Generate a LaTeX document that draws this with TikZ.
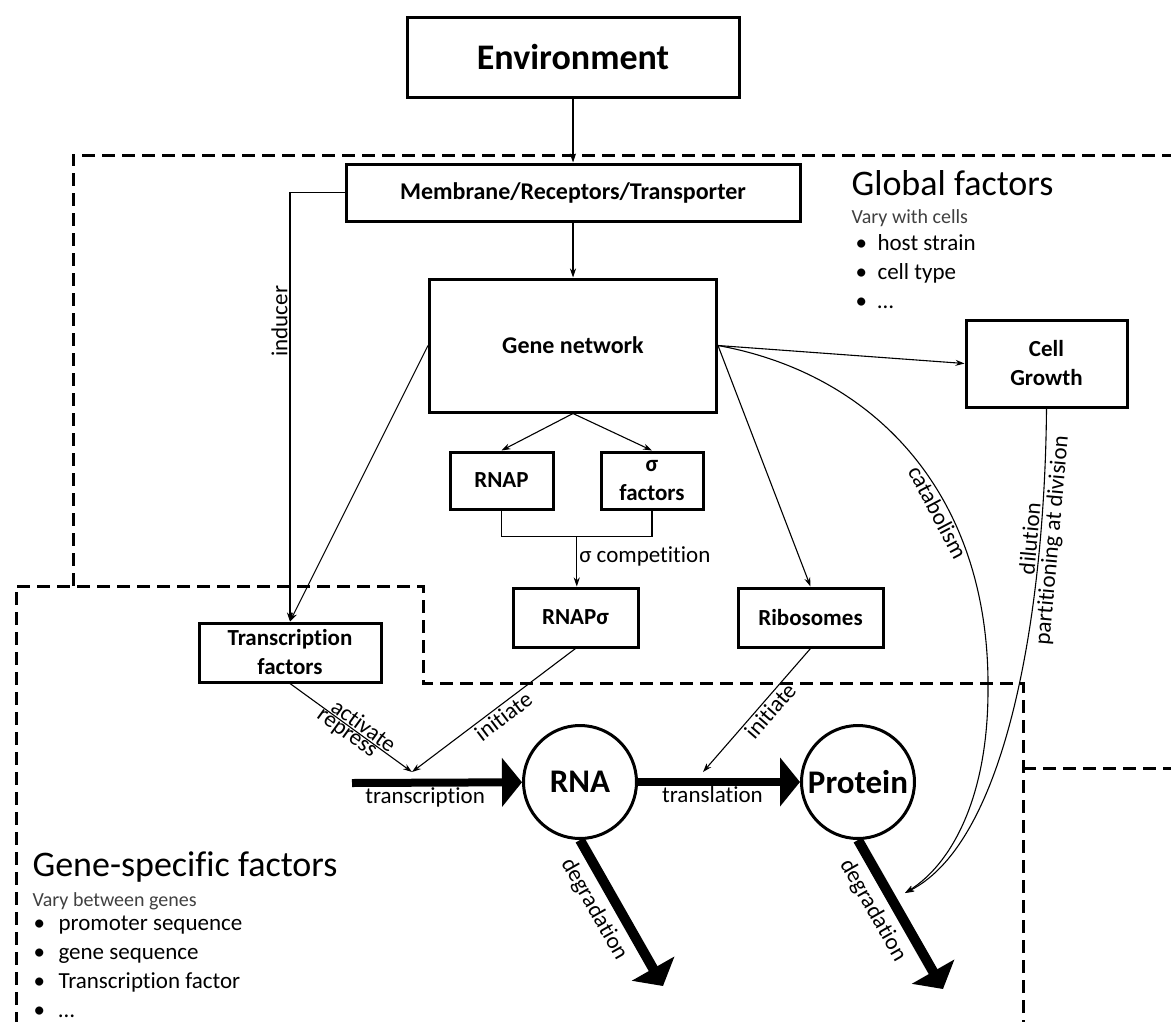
\documentclass[tikz,border=0pt]{standalone}
\usepackage{fontspec}
\setmainfont{Carlito}[Ligatures=NoCommon]
\usetikzlibrary{calc,arrows.meta,positioning}

\begin{document}
\begin{tikzpicture}[x=1pt,y=-1pt,>={Stealth[length=9pt,width=6pt]},line width=1.1pt,
  box/.style={draw,line width=3pt,align=center,inner sep=2pt,font=\fontsize{23}{29}\selectfont\bfseries},
  mol/.style={circle,draw,line width=3pt,minimum size=113pt,inner sep=0pt,font=\fontsize{33}{38}\selectfont\bfseries},
  big/.style={line width=8pt,-{Triangle[length=20pt,width=48pt]}},
  lab/.style={font=\fontsize{23}{28}\selectfont,inner sep=2pt},
  region/.style={line width=3pt,dash pattern=on 13pt off 7pt},
  head/.style={anchor=base west,inner sep=0pt,font=\fontsize{36}{40}\selectfont},
  sub/.style={anchor=base west,inner sep=0pt,text=black!75,font=\fontsize{20}{24}\selectfont},
  item/.style={anchor=base west,inner sep=0pt,font=\fontsize{23}{28}\selectfont}]

  \useasboundingbox (0,0) rectangle (1171,1021);

  \draw[region] (1175,155) -- (73,155) -- (73,586);
  \draw[region] (16,1025) -- (16,586) -- (423,586) -- (423,683) -- (1023,683) -- (1023,1025);
  \draw[region] (1023,768) -- (1175,768);

  \node[box,minimum width=332pt,minimum height=80pt,font=\fontsize{36}{40}\selectfont\bfseries] (1) at (573,57) {Environment};
  \node[box,minimum width=454pt,minimum height=57pt,font=\fontsize{24}{28}\selectfont\bfseries] (2) [below=64pt of 1] {Membrane/Receptors/Transporter};
  \node[box,minimum width=287pt,minimum height=133pt,font=\fontsize{24}{28}\selectfont\bfseries] (3) [below=55pt of 2] {Gene network};
  \node[box,minimum width=103pt,minimum height=57pt] (4) at (501.5,480.5) {RNAP};
  \node[box,minimum width=102pt,minimum height=57pt] (5) at (652,480.5) {σ\\factors};
  \node[box,minimum width=125pt,minimum height=59pt] (6) at (575.5,617.5) {RNAPσ};
  \node[box,minimum width=145pt,minimum height=59pt] (7) [right=97pt of 6] {Ribosomes};
  \node[box,minimum width=182pt,minimum height=59pt] (8) at (290,652.5) {Transcription\\factors};
  \node[box,minimum width=161pt,minimum height=87pt] (9) at (1046.5,363.5) {Cell\\Growth};
  \node[mol] (10) at (580,782) {RNA};
  \node[mol] (11) [right=162pt of 10] {Protein};

  \node[head] (gf) at (851,195) {Global factors};
  \node[sub] (gv) at (851,223) {Vary with cells};
  \foreach \t [count=\i] in {host strain,cell type,\ldots}
    \node[item] (g\i) at (855,221+29*\i) {\makebox[22pt][l]{•}\t};

  \node[head] (sf) at (32,876) {Gene-specific factors};
  \node[sub] (sv) at (32,906) {Vary between genes};
  \foreach \t [count=\i] in {promoter sequence,gene sequence,Transcription factor,\ldots}
    \node[item] (s\i) at (33,901+29*\i) {\makebox[25pt][l]{•}\t};

  \coordinate (t) at (412,772);
  \coordinate (tl) at (703,772);
  \coordinate (st) at (352,783);
  \coordinate (d1) at (663,986);
  \coordinate (d2) at (943,989);
  \coordinate (p) at (905,893);

  \draw[->] (1) -- (2);
  \draw[->] (2) -- (3);
  \draw[->] (2.west) -| node[lab,rotate=90,above,pos=.65] {inducer} (8.north);

  \path[->] (3.west) edge (8.north)
    (3.south) edge (4.north)
    (3.south) edge (5.north)
    (3.east) edge (9.west)
    (3.east) edge (7.north);

  \draw (4.south) -- ++(0,26) coordinate (a) -| (5.south);
  \coordinate (b) at ($(a)!.5!(a -| 5.south)$);
  \draw[->] (b) -- node[lab,right,pos=.4] {σ competition} (b |- 6.north);

  \path[->] (8.south) edge node[lab,sloped,above,pos=.56,inner sep=1pt] {activate} node[lab,sloped,below,pos=.5,inner sep=1pt] {repress} (t)
    (6.south) edge node[lab,sloped,below,pos=.48] {initiate} (t)
    (7.south) edge node[lab,sloped,below,pos=.45] {initiate} (tl);

  \draw[big] (st) -- node[lab,below,pos=.43,inner sep=1pt] {transcription} (10);
  \draw[big] (10) -- node[lab,below,pos=.46,inner sep=1pt] {translation} (11);
  \draw[big,line width=10pt] (10.south) -- node[lab,sloped,below=5pt,pos=.4] {degradation} (d1);
  \draw[big,line width=10pt] (11.south) -- node[lab,sloped,below=5pt,pos=.4] {degradation} (d2);

  \draw[->] (3.east) .. controls (880,375) and (990,500) .. (988,690) node[lab,sloped,below,pos=.63] {catabolism}
    .. controls (988,800) and (950,865) .. (p);
  \draw[->] (9.south) .. controls (1045,600) and (1010,840) .. (p) node[lab,sloped,above,pos=.22] {dilution} node[lab,sloped,below,pos=.22] {partitioning at division};

\end{tikzpicture}
\end{document}
